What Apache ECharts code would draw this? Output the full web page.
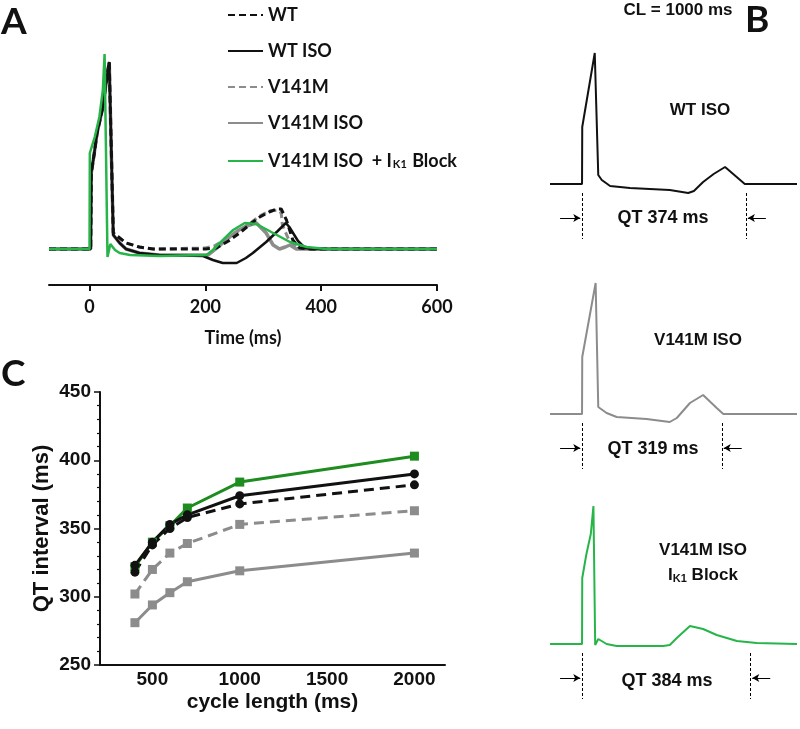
<!DOCTYPE html>
<html><head><meta charset="utf-8">
<script src="https://cdn.jsdelivr.net/npm/echarts@6/dist/echarts.min.js"></script>
<style>html,body{margin:0;padding:0;background:#fff}#c{width:800px;height:729px}</style>
</head><body><div id="c"></div>
<script>
// ---------- Panel A: pseudo-ECG traces [time (ms), amplitude (a.u.)] ----------
const traceA_WT = [[-70,0],[2,0],[3,76],[8,95],[13,116],[23,142],[31,176],[34,187],[37,187],[41,16],[52,11],[63,6],[86,2],[110,0],[200,0],[219,1],[240,8],[259,16],[280,26],[294,32],[310,37],[323,40],[331,40],[340,29],[351,9],[363,1],[380,0],[600,0]];
const traceA_WTISO = [[-70,0],[2,0],[3,76],[8,95],[13,116],[23,142],[31,176],[34,187],[37,187],[41,14],[52,6],[63,0],[86,-4],[120,-6],[196,-7],[213,-11],[230,-14],[254,-14],[270,-9],[282,-4],[305,7],[325,18],[339,26],[345,22],[360,8],[372,1],[385,0],[600,0]];
const traceA_V141M = [[-70,0],[2,0],[3,76],[8,95],[13,116],[23,142],[31,176],[34,187],[37,187],[41,16],[52,11],[63,6],[86,2],[110,0],[200,1],[215,3],[236,10],[260,19],[280,27],[297,34],[311,38],[325,39],[331,36],[333,24],[345,8],[358,2],[375,0],[600,0]];
const traceA_V141MISO = [[-70,0],[2,0],[3,76],[8,95],[13,116],[23,142],[31,176],[34,187],[37,187],[41,14],[52,6],[63,0],[86,-4],[120,-6],[205,-6],[220,1],[236,9],[255,18],[271,23],[288,26],[305,16],[317,4],[328,0],[338,2],[346,4],[357,0],[600,0]];
const traceA_IK1 = [[-70,0],[0,0],[0.5,96],[9,112],[17,132],[23,159],[26,195],[28,195],[31,-8],[36,5],[44,-1],[52,-4],[70,-6],[120,-7],[202,-6],[213,-1],[225,6],[248,19],[268,26],[288,25],[317,16],[346,7],[375,2],[409,0],[600,0]];
const timeTicksA = [0,200,400,600];

// ---------- Panel B: single traces at CL = 1000 ms ----------
const traceB_WTISO = [[-73,0],[0,0],[0.5,57],[29,131],[33,131],[37,9],[45,4],[64,-2],[109,-4],[200,-6],[242,-9],[255,-7],[276,2],[300,10],[326,17],[371,0],[490,0]];
const traceB_V141MISO = [[-73,0],[0,0],[0.5,57],[31,131],[34,131],[37,7],[56,1],[79,-3],[147,-5],[200,-8],[216,-4],[246,11],[276,19],[307,6],[322,0],[490,0]];
const traceB_IK1 = [[-73,0],[0,0],[0.5,66],[10,90],[20,110],[26,138],[28,138],[30,-1],[37,5],[56,0],[79,-2],[185,-2],[200,-1],[216,6],[246,18],[276,15],[307,9],[353,3],[398,1],[490,0]];
const qtB = [374, 319, 384];
const labelsB = ['WT ISO', 'V141M ISO', 'V141M ISO'];

// ---------- Panel C: QT interval vs cycle length ----------
const cycleLengths = [400, 500, 600, 700, 1000, 2000];
const qtWT = [318, 338, 350, 358, 368, 382];
const qtWTISO = [323, 340, 353, 360, 374, 390];
const qtV141M = [302, 320, 332, 339, 353, 363];
const qtV141MISO = [281, 294, 303, 311, 319, 332];
const qtIK1 = [322, 340, 352, 365, 384, 403];
const cycleTicks = [500, 1000, 1500, 2000];

const BLACK = '#111111', GRAY = '#8c8c8c', GREEN_A = '#27b54a', GREEN_C = '#1e8c1e';
const LATO = 'Lato', ARIAL = 'Liberation Sans';

const chart = echarts.init(document.getElementById('c'), null, {renderer: 'canvas'});
const pair = (xs, ys) => xs.map((x, i) => [x, ys[i]]);

function qtMarks(qt, yTop, yBot, yArrow) {
  return {
    silent: true, animation: false,
    symbol: ['none', 'none'],
    label: {show: false},
    emphasis: {disabled: true},
    lineStyle: {color: '#000', width: 1, type: [3, 2]},
    data: [
      [{coord: [0, yTop]}, {coord: [0, yBot]}],
      [{coord: [qt, yTop]}, {coord: [qt, yBot]}],
      [{coord: [-50, yArrow], symbol: 'none'}, {coord: [-4, yArrow], symbol: 'arrow', symbolSize: [6, 7], lineStyle: {type: 'solid', width: 1}}],
      [{coord: [qt + 45, yArrow], symbol: 'none'}, {coord: [qt + 4, yArrow], symbol: 'arrow', symbolSize: [6, 7], lineStyle: {type: 'solid', width: 1}}]
    ]
  };
}

const gridsB = [44, 274, 504];
const tracesB = [traceB_WTISO, traceB_V141MISO, traceB_IK1];
const colorsB = [BLACK, GRAY, GREEN_A];

const option = {
  animation: false,
  backgroundColor: '#fff',
  grid: [
    {left: 49, top: 49, width: 388, height: 236},
    {left: 550, top: gridsB[0], width: 247, height: 200},
    {left: 550, top: gridsB[1], width: 247, height: 200},
    {left: 550, top: gridsB[2], width: 247, height: 200},
    {left: 100, top: 392, width: 345, height: 273}
  ],
  xAxis: [
    {gridIndex: 0, type: 'value', min: -70, max: 600,
     name: 'Time (ms)', nameLocation: 'middle', nameGap: 44,
     nameTextStyle: {fontFamily: LATO, fontWeight: 'bold', fontSize: 18, color: BLACK},
     axisLine: {onZero: false, lineStyle: {color: BLACK, width: 2}},
     axisTick: {show: true, length: 6, lineStyle: {color: BLACK, width: 2}, customValues: timeTicksA},
     axisLabel: {margin: 13, fontFamily: LATO, fontWeight: 'bold', fontSize: 18, color: BLACK, customValues: timeTicksA, formatter: v => String(v)},
     splitLine: {show: false}},
    {gridIndex: 1, type: 'value', min: -73, max: 490, show: false},
    {gridIndex: 2, type: 'value', min: -73, max: 490, show: false},
    {gridIndex: 3, type: 'value', min: -73, max: 490, show: false},
    {gridIndex: 4, type: 'value', min: 200, max: 2175,
     name: 'cycle length (ms)', nameLocation: 'middle', nameGap: 27,
     nameTextStyle: {fontFamily: ARIAL, fontWeight: 'bold', fontSize: 21, color: BLACK},
     axisLine: {onZero: false, lineStyle: {color: BLACK, width: 2}},
     axisTick: {show: false},
     axisLabel: {margin: 5, fontFamily: ARIAL, fontWeight: 'bold', fontSize: 19, color: BLACK, customValues: cycleTicks, formatter: v => String(v)},
     splitLine: {show: false}}
  ],
  yAxis: [
    {gridIndex: 0, type: 'value', min: -36, max: 200, show: false},
    {gridIndex: 1, type: 'value', min: -60, max: 140, show: false},
    {gridIndex: 2, type: 'value', min: -60, max: 140, show: false},
    {gridIndex: 3, type: 'value', min: -60, max: 140, show: false},
    {gridIndex: 4, type: 'value', min: 250, max: 450, interval: 50,
     name: 'QT interval (ms)', nameLocation: 'middle', nameGap: 47, nameRotate: 90,
     nameTextStyle: {fontFamily: ARIAL, fontWeight: 'bold', fontSize: 22, color: BLACK},
     axisLine: {show: true, onZero: false, lineStyle: {color: BLACK, width: 2}},
     axisTick: {show: true, length: 6, lineStyle: {color: BLACK, width: 1.5}},
     minorTick: {show: true, splitNumber: 5, length: 3, lineStyle: {color: BLACK, width: 1.2}},
     axisLabel: {margin: 9, fontFamily: ARIAL, fontWeight: 'bold', fontSize: 19, color: BLACK, formatter: v => String(v)},
     splitLine: {show: false}}
  ],
  legend: {
    orient: 'vertical', left: 222, top: 1,
    itemWidth: 35, itemHeight: 14, itemGap: 18,
    data: ['WT', 'WT ISO', 'V141M', 'V141M ISO', 'V141M ISO + IK1 Block'],
    itemStyle: {opacity: 0},
    formatter: function (n) {
      return n === 'V141M ISO + IK1 Block' ? 'V141M ISO  + I{sub|K1} Block' : n;
    },
    textStyle: {fontFamily: LATO, fontWeight: 'bold', fontSize: 18, color: BLACK, lineHeight: 18,
      rich: {sub: {fontFamily: LATO, fontWeight: 'bold', fontSize: 11, color: BLACK, lineHeight: 18, verticalAlign: 'bottom', padding: [9, 1, 0, 1]}}},
    selectedMode: false
  },
  series: [
    // Panel A
    {name: 'V141M ISO', type: 'line', xAxisIndex: 0, yAxisIndex: 0, data: traceA_V141MISO, symbol: 'none', z: 2,
     lineStyle: {color: GRAY, width: 3.5}, itemStyle: {color: GRAY}},
    {name: 'V141M', type: 'line', xAxisIndex: 0, yAxisIndex: 0, data: traceA_V141M, symbol: 'none', z: 3,
     lineStyle: {color: GRAY, width: 3, type: [7, 4]}, itemStyle: {color: GRAY}},
    {name: 'WT ISO', type: 'line', xAxisIndex: 0, yAxisIndex: 0, data: traceA_WTISO, symbol: 'none', z: 4,
     lineStyle: {color: BLACK, width: 2.5}, itemStyle: {color: BLACK}},
    {name: 'WT', type: 'line', xAxisIndex: 0, yAxisIndex: 0, data: traceA_WT, symbol: 'none', z: 5,
     lineStyle: {color: BLACK, width: 3, type: [7, 4]}, itemStyle: {color: BLACK}},
    {name: 'V141M ISO + IK1 Block', type: 'line', xAxisIndex: 0, yAxisIndex: 0, data: traceA_IK1, symbol: 'none', z: 6,
     lineStyle: {color: GREEN_A, width: 2.5}, itemStyle: {color: GREEN_A}},
    // Panel B
    ...tracesB.map((tr, i) => ({
      name: 'B' + i, type: 'line', xAxisIndex: i + 1, yAxisIndex: i + 1, data: tr, symbol: 'none',
      lineStyle: {color: colorsB[i], width: 2}, itemStyle: {color: colorsB[i]},
      markLine: qtMarks(qtB[i], -9, -55, -34)
    })),
    // Panel C
    {name: 'C V141M ISO', type: 'line', xAxisIndex: 4, yAxisIndex: 4, data: pair(cycleLengths, qtV141MISO),
     symbol: 'rect', symbolSize: 9, lineStyle: {color: GRAY, width: 3}, itemStyle: {color: GRAY}},
    {name: 'C V141M', type: 'line', xAxisIndex: 4, yAxisIndex: 4, data: pair(cycleLengths, qtV141M),
     symbol: 'rect', symbolSize: 9, lineStyle: {color: GRAY, width: 3, type: [10, 6]}, itemStyle: {color: GRAY}},
    {name: 'C IK1', type: 'line', xAxisIndex: 4, yAxisIndex: 4, data: pair(cycleLengths, qtIK1),
     symbol: 'rect', symbolSize: 9, lineStyle: {color: GREEN_C, width: 3}, itemStyle: {color: GREEN_C}},
    {name: 'C WT', type: 'line', xAxisIndex: 4, yAxisIndex: 4, data: pair(cycleLengths, qtWT),
     symbol: 'circle', symbolSize: 9, lineStyle: {color: BLACK, width: 3, type: [10, 6]}, itemStyle: {color: BLACK}},
    {name: 'C WT ISO', type: 'line', xAxisIndex: 4, yAxisIndex: 4, data: pair(cycleLengths, qtWTISO),
     symbol: 'circle', symbolSize: 9, lineStyle: {color: BLACK, width: 3}, itemStyle: {color: BLACK}}
  ],
  graphic: [
    {type: 'text', left: 1, top: 4, style: {text: 'A', fontFamily: LATO, fontWeight: 'bold', fontSize: 37, fill: BLACK}},
    {type: 'text', left: 745, top: 2, style: {text: 'B', fontFamily: LATO, fontWeight: 'bold', fontSize: 37, fill: BLACK}},
    {type: 'text', left: 1, top: 356, style: {text: 'C', fontFamily: LATO, fontWeight: 'bold', fontSize: 37, fill: BLACK}},
    {type: 'text', x: 678, y: 10, style: {text: 'CL = 1000 ms', fontFamily: ARIAL, fontWeight: 'bold', fontSize: 17, fill: BLACK, align: 'center', verticalAlign: 'middle'}},
    {type: 'text', x: 700, y: 110, style: {text: labelsB[0], fontFamily: ARIAL, fontWeight: 'bold', fontSize: 17, fill: BLACK, align: 'center', verticalAlign: 'middle'}},
    {type: 'text', x: 663, y: 218, style: {text: 'QT ' + qtB[0] + ' ms', fontFamily: ARIAL, fontWeight: 'bold', fontSize: 18, fill: BLACK, align: 'center', verticalAlign: 'middle'}},
    {type: 'text', x: 698, y: 340, style: {text: labelsB[1], fontFamily: ARIAL, fontWeight: 'bold', fontSize: 17, fill: BLACK, align: 'center', verticalAlign: 'middle'}},
    {type: 'text', x: 653, y: 449, style: {text: 'QT ' + qtB[1] + ' ms', fontFamily: ARIAL, fontWeight: 'bold', fontSize: 18, fill: BLACK, align: 'center', verticalAlign: 'middle'}},
    {type: 'text', x: 703, y: 550, style: {text: labelsB[2], fontFamily: ARIAL, fontWeight: 'bold', fontSize: 17, fill: BLACK, align: 'center', verticalAlign: 'middle'}},
    {type: 'text', x: 703, y: 574, style: {text: '{b|I}{s|K1}{b| Block}', align: 'center', verticalAlign: 'middle',
      rich: {b: {fontFamily: ARIAL, fontWeight: 'bold', fontSize: 17, fill: BLACK, lineHeight: 20, verticalAlign: 'bottom'},
             s: {fontFamily: ARIAL, fontWeight: 'bold', fontSize: 11, fill: BLACK, lineHeight: 20, verticalAlign: 'bottom', padding: [6, 0, 0, 0]}}}},
    {type: 'text', x: 667, y: 681, style: {text: 'QT ' + qtB[2] + ' ms', fontFamily: ARIAL, fontWeight: 'bold', fontSize: 18, fill: BLACK, align: 'center', verticalAlign: 'middle'}}
  ]
};
chart.setOption(option);
</script>
</body></html>
